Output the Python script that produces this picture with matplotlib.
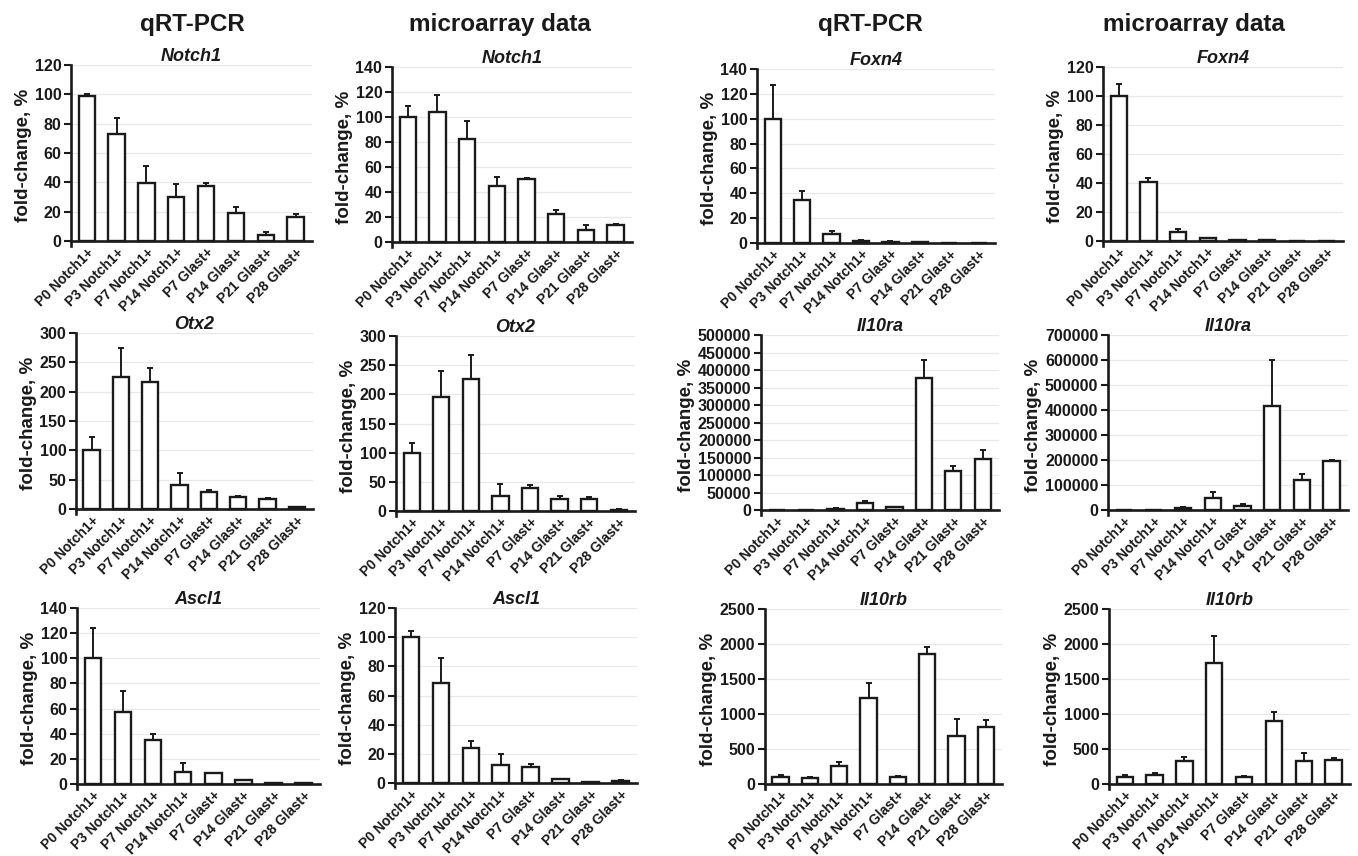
import numpy as np
import matplotlib
matplotlib.use("Agg")
import matplotlib.pyplot as plt

plt.rcParams['font.family'] = ['Liberation Sans', 'DejaVu Sans']
plt.rcParams['font.weight'] = 'bold'

# categories
grupos = ['P0 Notch1+', 'P3 Notch1+', 'P7 Notch1+', 'P14 Notch1+',
          'P7 Glast+', 'P14 Glast+', 'P21 Glast+', 'P28 Glast+']

# datos (valor medio y error superior)
notch1_pcr = [99, 73, 39.5, 30, 37.8, 18.8, 4.3, 16.6]
notch1_pcr_err = [1.5, 11, 11.5, 9, 2, 4.5, 2, 1.6]
notch1_arr = [100, 104, 82, 45, 50, 22.4, 9.8, 13.8]
notch1_arr_err = [9, 13.5, 15, 7, 1, 3, 3.5, 0.8]

foxn4_pcr = [100, 34.5, 7.2, 1.5, 1.0, 0.5, 0.3, 0.1]
foxn4_pcr_err = [27, 7, 2.4, 1, 0.3, 0.1, 0.1, 0.05]
foxn4_arr = [100, 41, 6, 1.8, 0.5, 0.5, 0.2, 0.2]
foxn4_arr_err = [8.5, 2.2, 2.3, 0.5, 0.1, 0.1, 0.05, 0.05]

otx2_pcr = [100, 225, 217, 41, 29, 20, 17.6, 3]
otx2_pcr_err = [22, 50, 23, 20, 3.4, 1.6, 1.2, 1]
otx2_arr = [100, 195, 226, 26.5, 40, 20.6, 21, 2.3]
otx2_arr_err = [17, 45, 41, 19.5, 4, 4.4, 3, 0.6]

il10ra_pcr = [500, 1000, 3000, 20000, 7600, 377000, 112000, 145000]
il10ra_pcr_err = [200, 300, 2000, 5000, 1900, 53000, 15000, 26000]
il10ra_arr = [200, 300, 9300, 49000, 17000, 417000, 118700, 196000]
il10ra_arr_err = [50, 50, 1700, 22000, 5600, 182000, 24000, 2600]

ascl1_pcr = [100, 57, 35, 9.3, 8.5, 2.9, 0.6, 0.5]
ascl1_pcr_err = [24, 16.7, 5, 7.7, 0.5, 0.3, 0.1, 0.1]
ascl1_arr = [100, 68.4, 24.3, 12.4, 11.2, 2.5, 0.8, 1.3]
ascl1_arr_err = [4, 17.6, 4.4, 7.3, 2.1, 0.3, 0.1, 0.5]

il10rb_pcr = [105, 81, 257, 1224, 105, 1852, 690, 814]
il10rb_pcr_err = [24, 24, 57, 224, 5, 105, 239, 105]
il10rb_arr = [105, 129, 324, 1729, 105, 905, 329, 343]
il10rb_arr_err = [24, 33, 66, 390, 14, 128, 109, 24]

# (gen, valores, errores, ymax, paso)
paneles = [
    [('Notch1', notch1_pcr, notch1_pcr_err, 120, 20),
     ('Notch1', notch1_arr, notch1_arr_err, 140, 20),
     ('Foxn4', foxn4_pcr, foxn4_pcr_err, 140, 20),
     ('Foxn4', foxn4_arr, foxn4_arr_err, 120, 20)],
    [('Otx2', otx2_pcr, otx2_pcr_err, 300, 50),
     ('Otx2', otx2_arr, otx2_arr_err, 300, 50),
     ('Il10ra', il10ra_pcr, il10ra_pcr_err, 500000, 50000),
     ('Il10ra', il10ra_arr, il10ra_arr_err, 700000, 100000)],
    [('Ascl1', ascl1_pcr, ascl1_pcr_err, 140, 20),
     ('Ascl1', ascl1_arr, ascl1_arr_err, 120, 20),
     ('Il10rb', il10rb_pcr, il10rb_pcr_err, 2500, 500),
     ('Il10rb', il10rb_arr, il10rb_arr_err, 2500, 500)],
]

# posiciones en pixeles: (izquierda, derecha, arriba, cero)
cajas = [
    [(71, 312, 65, 241), (392, 632, 67, 242), (757, 995, 69, 243), (1103, 1343, 67, 241)],
    [(76, 313, 333, 509), (396, 635, 336, 511), (761, 999, 335, 510), (1108, 1348, 335, 510)],
    [(77, 320, 608, 784), (395, 637, 608, 783), (765, 1002, 609, 784), (1109, 1350, 609, 784)],
]

W, H = 1358, 856
fig = plt.figure(figsize=(W / 100, H / 100), dpi=100)
negro = '#1a1a1a'
bajo = 0.03

for fila in range(3):
    for col in range(4):
        gen, vals, errs, ymax, paso = paneles[fila][col]
        izq, der, arr, cero = cajas[fila][col]
        abajo = cero + bajo * (cero - arr)
        ax = fig.add_axes([izq / W, 1 - abajo / H, (der - izq) / W, (abajo - arr) / H])
        x = np.arange(len(grupos))
        ax.bar(x, vals, width=0.55, color='white', edgecolor=negro, linewidth=1.7, zorder=3)
        ax.errorbar(x, vals, yerr=[np.zeros(len(vals)), errs], fmt='none',
                    ecolor=negro, elinewidth=1.4, capsize=2.5, capthick=1.4, zorder=2)
        ax.set_xlim(-0.53, 7.55)
        ax.set_ylim(-bajo * ymax, ymax)
        ax.set_yticks(np.arange(0, ymax + 1, paso))
        ax.yaxis.grid(True, color='#e8e8e8', linewidth=0.9, zorder=0)
        ax.set_axisbelow(True)
        ax.spines['top'].set_visible(False)
        ax.spines['right'].set_visible(False)
        ax.spines['bottom'].set_position(('data', 0))
        ax.spines['bottom'].set_linewidth(1.9)
        ax.spines['left'].set_linewidth(1.9)
        ax.spines['bottom'].set_color(negro)
        ax.spines['left'].set_color(negro)
        ax.tick_params(axis='y', length=5, width=1.5, labelsize=11.5, colors=negro, pad=2)
        ax.tick_params(axis='x', length=0, pad=3, labelsize=10, colors=negro)
        ax.set_xticks(x)
        ax.set_xticklabels(grupos, rotation=45, ha='right', rotation_mode='anchor', fontweight='bold')
        for t in ax.get_yticklabels():
            t.set_fontweight('bold')
        ax.set_ylabel('fold-change, %', fontsize=13.5, fontweight='bold', color=negro, labelpad=2)
        ax.set_title(gen, fontsize=13, fontweight='bold', fontstyle='italic', color=negro, pad=1)

cabeceras = ['qRT-PCR', 'microarray data', 'qRT-PCR', 'microarray data']
centros = [192, 500, 870, 1194]
for texto, cx in zip(cabeceras, centros):
    fig.text(cx / W, 1 - 24 / H, texto, fontsize=17.5, fontweight='bold',
             ha='center', va='center', color=negro)

fig.savefig('out.png', dpi=100)
